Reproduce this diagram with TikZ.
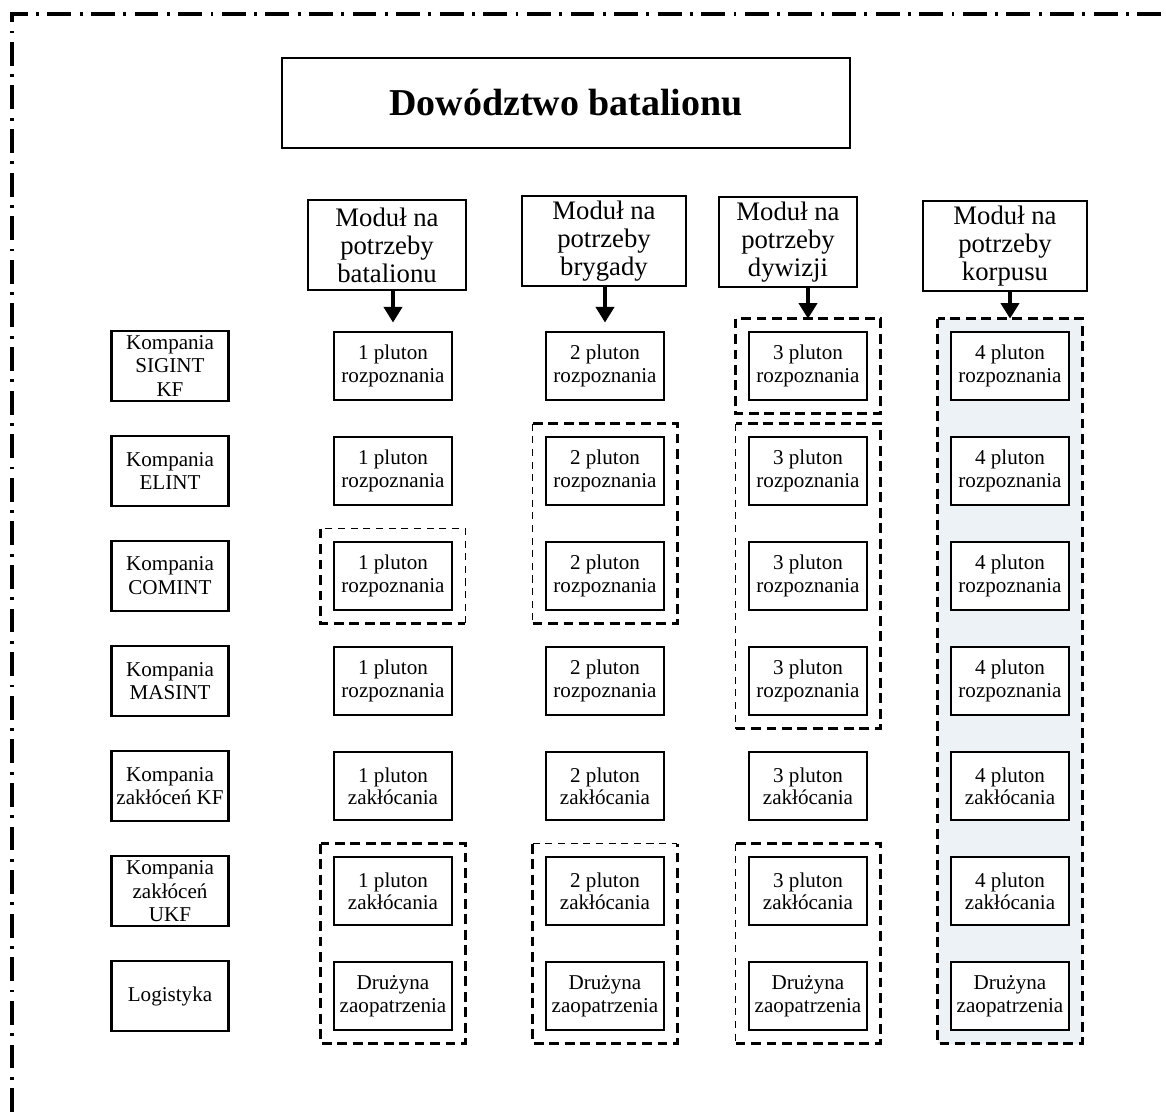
\documentclass[tikz,border=0pt]{standalone}
\usepackage{fontspec}
\setmainfont{Liberation Serif}
\usepackage{tikz}
\usetikzlibrary{shapes,arrows,arrows.meta,positioning,fit,backgrounds}

\definecolor{tlo}{RGB}{236,242,245}

\begin{document}
\begin{tikzpicture}[
    x=0.025cm, y=-0.025cm,
    node distance=2.625cm,
    tytul/.style={rectangle, draw=black, line width=1.4pt, minimum width=14.2cm, minimum height=2.25cm, font=\fontsize{27}{30}\selectfont\bfseries},
    modul/.style={rectangle, draw=black, line width=1.6pt, minimum height=2.25cm, align=center, inner sep=2pt, font=\fontsize{19}{20}\selectfont},
    kompania/.style={rectangle, draw=black, line width=1.6pt, minimum width=2.93cm, minimum height=1.75cm, align=center, inner sep=1pt, font=\fontsize{15}{17}\selectfont},
    pluton/.style={rectangle, draw=black, fill=white, line width=1.6pt, minimum width=2.95cm, minimum height=1.7cm, align=center, inner sep=1pt, font=\fontsize{15}{16}\selectfont},
    grupa/.style={rectangle, inner sep=0.3cm},
    gruba/.style={line width=2.4pt, dash pattern=on 7pt off 4pt},
    cienka/.style={line width=0.6pt, dash pattern=on 5pt off 4pt},
    arrow/.style={-{Triangle[length=11pt,width=13pt]}, line width=2.2pt},
    ramka/.style={line width=2.2pt, dash pattern=on 17pt off 6pt on 2pt off 6pt}
]
\useasboundingbox (0,0) rectangle (1166,1112);

% Frame
\draw[ramka] (12,1112) -- (12,14) -- (1166,14);

% Battalion command
\node[tytul] (dowodztwo) at (566,103) {Dowództwo batalionu};

% Modules
\node[modul, minimum width=3.95cm] (mod1) at (387,245) {Moduł na\\potrzeby\\batalionu};
\node[modul, minimum width=4.1cm] (mod2) at (604,241) {Moduł na\\potrzeby\\brygady};
\node[modul, minimum width=3.45cm] (mod3) at (788,242) {Moduł na\\potrzeby\\dywizji};
\node[modul, minimum width=4.1cm] (mod4) at (1005,246) {Moduł na\\potrzeby\\korpusu};

% Companies
\node[kompania] (kom1) at (170,366) {Kompania\\SIGINT\\KF};
\node[kompania, below of=kom1] (kom2) {Kompania\\ELINT};
\node[kompania, below of=kom2] (kom3) {Kompania\\COMINT};
\node[kompania, below of=kom3] (kom4) {Kompania\\MASINT};
\node[kompania, below of=kom4] (kom5) {Kompania\\zakłóceń KF};
\node[kompania, below of=kom5] (kom6) {Kompania\\zakłóceń\\UKF};
\node[kompania, below of=kom6] (kom7) {Logistyka};

% Column 1
\node[pluton] (p11) at (393,366) {1 pluton\\rozpoznania};
\node[pluton, below of=p11] (p12) {1 pluton\\rozpoznania};
\node[pluton, below of=p12] (p13) {1 pluton\\rozpoznania};
\node[pluton, below of=p13] (p14) {1 pluton\\rozpoznania};
\node[pluton, below of=p14] (p15) {1 pluton\\zakłócania};
\node[pluton, below of=p15] (p16) {1 pluton\\zakłócania};
\node[pluton, below of=p16] (p17) {Drużyna\\zaopatrzenia};

% Column 2
\node[pluton] (p21) at (605,366) {2 pluton\\rozpoznania};
\node[pluton, below of=p21] (p22) {2 pluton\\rozpoznania};
\node[pluton, below of=p22] (p23) {2 pluton\\rozpoznania};
\node[pluton, below of=p23] (p24) {2 pluton\\rozpoznania};
\node[pluton, below of=p24] (p25) {2 pluton\\zakłócania};
\node[pluton, below of=p25] (p26) {2 pluton\\zakłócania};
\node[pluton, below of=p26] (p27) {Drużyna\\zaopatrzenia};

% Column 3
\node[pluton] (p31) at (808,366) {3 pluton\\rozpoznania};
\node[pluton, below of=p31] (p32) {3 pluton\\rozpoznania};
\node[pluton, below of=p32] (p33) {3 pluton\\rozpoznania};
\node[pluton, below of=p33] (p34) {3 pluton\\rozpoznania};
\node[pluton, below of=p34] (p35) {3 pluton\\zakłócania};
\node[pluton, below of=p35] (p36) {3 pluton\\zakłócania};
\node[pluton, below of=p36] (p37) {Drużyna\\zaopatrzenia};

% Column 4
\node[pluton] (p41) at (1010,366) {4 pluton\\rozpoznania};
\node[pluton, below of=p41] (p42) {4 pluton\\rozpoznania};
\node[pluton, below of=p42] (p43) {4 pluton\\rozpoznania};
\node[pluton, below of=p43] (p44) {4 pluton\\rozpoznania};
\node[pluton, below of=p44] (p45) {4 pluton\\zakłócania};
\node[pluton, below of=p45] (p46) {4 pluton\\zakłócania};
\node[pluton, below of=p46] (p47) {Drużyna\\zaopatrzenia};

% Groups
\node[grupa, fit=(p13)] (grp1) {};
\node[grupa, fit=(p16)(p17)] (grp2) {};
\node[grupa, fit=(p22)(p23)] (grp3) {};
\node[grupa, fit=(p26)(p27)] (grp4) {};
\node[grupa, fit=(p31)] (grp5) {};
\node[grupa, fit=(p32)(p34)] (grp6) {};
\node[grupa, fit=(p36)(p37)] (grp7) {};
\node[grupa, fit=(p41)(p47)] (grp8) {};

\begin{scope}[on background layer]
\fill[tlo] (grp8.north west) rectangle (grp8.south east);
\end{scope}

\draw[cienka] (grp1.south east) -- (grp1.north east) -- (grp1.north west);
\draw[gruba] (grp1.north west) -- (grp1.south west) -- (grp1.south east);
\draw[gruba] (grp2.north west) rectangle (grp2.south east);
\draw[cienka] (grp3.north west) -- (grp3.south west);
\draw[gruba] (grp3.south west) -- (grp3.south east) -- (grp3.north east) -- (grp3.north west);
\draw[cienka] (grp4.north west) -- (grp4.north east);
\draw[gruba] (grp4.north west) -- (grp4.south west) -- (grp4.south east) -- (grp4.north east);
\draw[gruba] (grp5.north west) rectangle (grp5.south east);
\draw[cienka] (grp6.north west) -- (grp6.south west);
\draw[gruba] (grp6.south west) -- (grp6.south east) -- (grp6.north east) -- (grp6.north west);
\draw[cienka] (grp7.north west) -- (grp7.south west);
\draw[gruba] (grp7.south west) -- (grp7.south east) -- (grp7.north east) -- (grp7.north west);
\draw[gruba] (grp8.north west) rectangle (grp8.south east);

% Connections
\draw[arrow, shorten >=6pt] (mod1.south -| p11.north) -- (p11.north);
\draw[arrow, shorten >=6pt] (mod2.south -| p21.north) -- (p21.north);
\draw[arrow] (mod3.south -| grp5.north) -- (grp5.north);
\draw[arrow] (mod4.south -| grp8.north) -- (grp8.north);

\end{tikzpicture}
\end{document}
